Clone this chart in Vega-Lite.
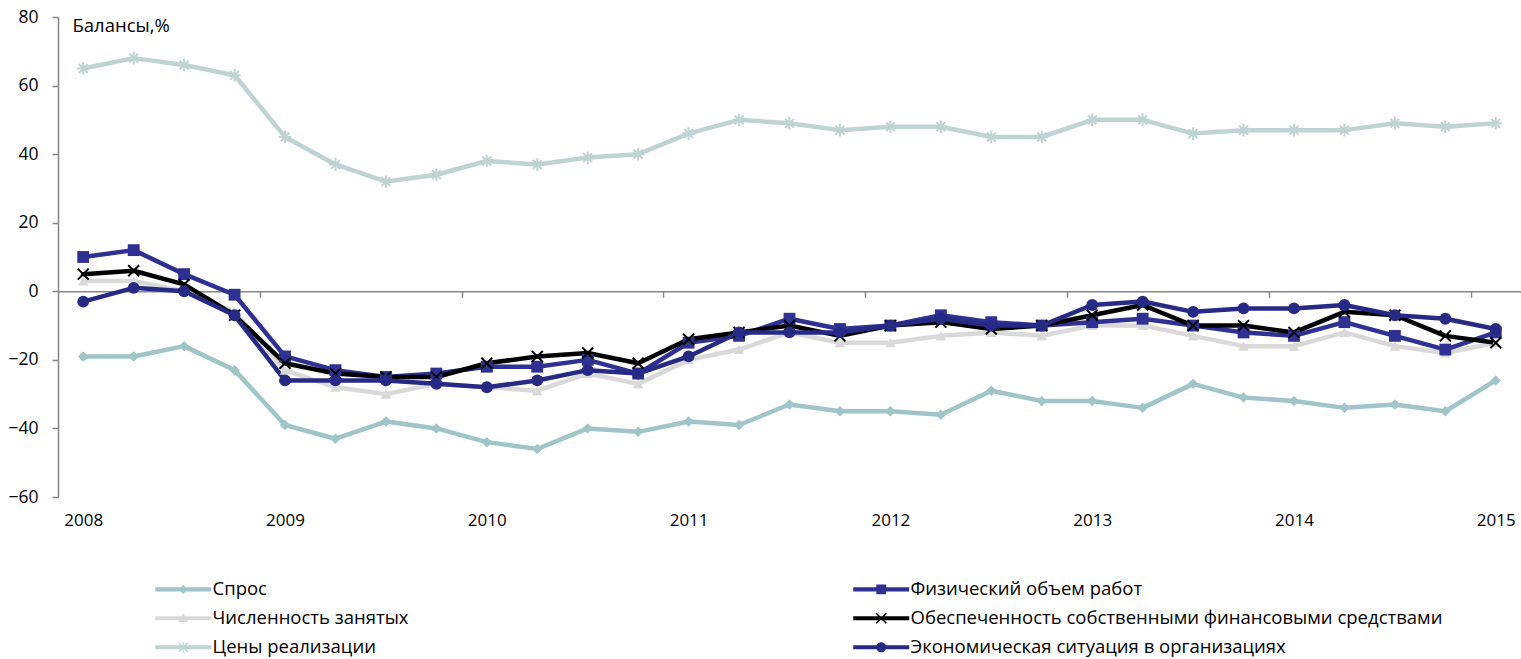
{
  "$schema": "https://vega.github.io/schema/vega-lite/v6.json",
  "width": 1463,
  "height": 480,
  "autosize": {"type": "none"},
  "padding": {"left": 58, "top": 17, "right": 0, "bottom": 162},
  "background": "white",
  "config": {
    "view": {"stroke": null},
    "font": "Open Sans",
    "legend": {"labelFont": "Open Sans"}
  },
  "data": {"values": [
    {"s":"Спрос","i":0,"v":-19},{"s":"Спрос","i":1,"v":-19},{"s":"Спрос","i":2,"v":-16},{"s":"Спрос","i":3,"v":-23},{"s":"Спрос","i":4,"v":-39},{"s":"Спрос","i":5,"v":-43},{"s":"Спрос","i":6,"v":-38},{"s":"Спрос","i":7,"v":-40},{"s":"Спрос","i":8,"v":-44},{"s":"Спрос","i":9,"v":-46},{"s":"Спрос","i":10,"v":-40},{"s":"Спрос","i":11,"v":-41},{"s":"Спрос","i":12,"v":-38},{"s":"Спрос","i":13,"v":-39},{"s":"Спрос","i":14,"v":-33},{"s":"Спрос","i":15,"v":-35},{"s":"Спрос","i":16,"v":-35},{"s":"Спрос","i":17,"v":-36},{"s":"Спрос","i":18,"v":-29},{"s":"Спрос","i":19,"v":-32},{"s":"Спрос","i":20,"v":-32},{"s":"Спрос","i":21,"v":-34},{"s":"Спрос","i":22,"v":-27},{"s":"Спрос","i":23,"v":-31},{"s":"Спрос","i":24,"v":-32},{"s":"Спрос","i":25,"v":-34},{"s":"Спрос","i":26,"v":-33},{"s":"Спрос","i":27,"v":-35},{"s":"Спрос","i":28,"v":-26},
    {"s":"Цены реализации","i":0,"v":65},{"s":"Цены реализации","i":1,"v":68},{"s":"Цены реализации","i":2,"v":66},{"s":"Цены реализации","i":3,"v":63},{"s":"Цены реализации","i":4,"v":45},{"s":"Цены реализации","i":5,"v":37},{"s":"Цены реализации","i":6,"v":32},{"s":"Цены реализации","i":7,"v":34},{"s":"Цены реализации","i":8,"v":38},{"s":"Цены реализации","i":9,"v":37},{"s":"Цены реализации","i":10,"v":39},{"s":"Цены реализации","i":11,"v":40},{"s":"Цены реализации","i":12,"v":46},{"s":"Цены реализации","i":13,"v":50},{"s":"Цены реализации","i":14,"v":49},{"s":"Цены реализации","i":15,"v":47},{"s":"Цены реализации","i":16,"v":48},{"s":"Цены реализации","i":17,"v":48},{"s":"Цены реализации","i":18,"v":45},{"s":"Цены реализации","i":19,"v":45},{"s":"Цены реализации","i":20,"v":50},{"s":"Цены реализации","i":21,"v":50},{"s":"Цены реализации","i":22,"v":46},{"s":"Цены реализации","i":23,"v":47},{"s":"Цены реализации","i":24,"v":47},{"s":"Цены реализации","i":25,"v":47},{"s":"Цены реализации","i":26,"v":49},{"s":"Цены реализации","i":27,"v":48},{"s":"Цены реализации","i":28,"v":49},
    {"s":"Численность занятых","i":0,"v":3},{"s":"Численность занятых","i":1,"v":3},{"s":"Численность занятых","i":2,"v":0},{"s":"Численность занятых","i":3,"v":-6},{"s":"Численность занятых","i":4,"v":-23},{"s":"Численность занятых","i":5,"v":-28},{"s":"Численность занятых","i":6,"v":-30},{"s":"Численность занятых","i":7,"v":-27},{"s":"Численность занятых","i":8,"v":-28},{"s":"Численность занятых","i":9,"v":-29},{"s":"Численность занятых","i":10,"v":-24},{"s":"Численность занятых","i":11,"v":-27},{"s":"Численность занятых","i":12,"v":-20},{"s":"Численность занятых","i":13,"v":-17},{"s":"Численность занятых","i":14,"v":-12},{"s":"Численность занятых","i":15,"v":-15},{"s":"Численность занятых","i":16,"v":-15},{"s":"Численность занятых","i":17,"v":-13},{"s":"Численность занятых","i":18,"v":-12},{"s":"Численность занятых","i":19,"v":-13},{"s":"Численность занятых","i":20,"v":-10},{"s":"Численность занятых","i":21,"v":-10},{"s":"Численность занятых","i":22,"v":-13},{"s":"Численность занятых","i":23,"v":-16},{"s":"Численность занятых","i":24,"v":-16},{"s":"Численность занятых","i":25,"v":-12},{"s":"Численность занятых","i":26,"v":-16},{"s":"Численность занятых","i":27,"v":-18},{"s":"Численность занятых","i":28,"v":-15},
    {"s":"Физический объем работ","i":0,"v":10},{"s":"Физический объем работ","i":1,"v":12},{"s":"Физический объем работ","i":2,"v":5},{"s":"Физический объем работ","i":3,"v":-1},{"s":"Физический объем работ","i":4,"v":-19},{"s":"Физический объем работ","i":5,"v":-23},{"s":"Физический объем работ","i":6,"v":-25},{"s":"Физический объем работ","i":7,"v":-24},{"s":"Физический объем работ","i":8,"v":-22},{"s":"Физический объем работ","i":9,"v":-22},{"s":"Физический объем работ","i":10,"v":-20},{"s":"Физический объем работ","i":11,"v":-24},{"s":"Физический объем работ","i":12,"v":-15},{"s":"Физический объем работ","i":13,"v":-13},{"s":"Физический объем работ","i":14,"v":-8},{"s":"Физический объем работ","i":15,"v":-11},{"s":"Физический объем работ","i":16,"v":-10},{"s":"Физический объем работ","i":17,"v":-7},{"s":"Физический объем работ","i":18,"v":-9},{"s":"Физический объем работ","i":19,"v":-10},{"s":"Физический объем работ","i":20,"v":-9},{"s":"Физический объем работ","i":21,"v":-8},{"s":"Физический объем работ","i":22,"v":-10},{"s":"Физический объем работ","i":23,"v":-12},{"s":"Физический объем работ","i":24,"v":-13},{"s":"Физический объем работ","i":25,"v":-9},{"s":"Физический объем работ","i":26,"v":-13},{"s":"Физический объем работ","i":27,"v":-17},{"s":"Физический объем работ","i":28,"v":-12},
    {"s":"Обеспеченность собственными финансовыми средствами","i":0,"v":5},{"s":"Обеспеченность собственными финансовыми средствами","i":1,"v":6},{"s":"Обеспеченность собственными финансовыми средствами","i":2,"v":2},{"s":"Обеспеченность собственными финансовыми средствами","i":3,"v":-7},{"s":"Обеспеченность собственными финансовыми средствами","i":4,"v":-21},{"s":"Обеспеченность собственными финансовыми средствами","i":5,"v":-24},{"s":"Обеспеченность собственными финансовыми средствами","i":6,"v":-25},{"s":"Обеспеченность собственными финансовыми средствами","i":7,"v":-25},{"s":"Обеспеченность собственными финансовыми средствами","i":8,"v":-21},{"s":"Обеспеченность собственными финансовыми средствами","i":9,"v":-19},{"s":"Обеспеченность собственными финансовыми средствами","i":10,"v":-18},{"s":"Обеспеченность собственными финансовыми средствами","i":11,"v":-21},{"s":"Обеспеченность собственными финансовыми средствами","i":12,"v":-14},{"s":"Обеспеченность собственными финансовыми средствами","i":13,"v":-12},{"s":"Обеспеченность собственными финансовыми средствами","i":14,"v":-10},{"s":"Обеспеченность собственными финансовыми средствами","i":15,"v":-13},{"s":"Обеспеченность собственными финансовыми средствами","i":16,"v":-10},{"s":"Обеспеченность собственными финансовыми средствами","i":17,"v":-9},{"s":"Обеспеченность собственными финансовыми средствами","i":18,"v":-11},{"s":"Обеспеченность собственными финансовыми средствами","i":19,"v":-10},{"s":"Обеспеченность собственными финансовыми средствами","i":20,"v":-7},{"s":"Обеспеченность собственными финансовыми средствами","i":21,"v":-4},{"s":"Обеспеченность собственными финансовыми средствами","i":22,"v":-10},{"s":"Обеспеченность собственными финансовыми средствами","i":23,"v":-10},{"s":"Обеспеченность собственными финансовыми средствами","i":24,"v":-12},{"s":"Обеспеченность собственными финансовыми средствами","i":25,"v":-6},{"s":"Обеспеченность собственными финансовыми средствами","i":26,"v":-7},{"s":"Обеспеченность собственными финансовыми средствами","i":27,"v":-13},{"s":"Обеспеченность собственными финансовыми средствами","i":28,"v":-15},
    {"s":"Экономическая ситуация в организациях","i":0,"v":-3},{"s":"Экономическая ситуация в организациях","i":1,"v":1},{"s":"Экономическая ситуация в организациях","i":2,"v":0},{"s":"Экономическая ситуация в организациях","i":3,"v":-7},{"s":"Экономическая ситуация в организациях","i":4,"v":-26},{"s":"Экономическая ситуация в организациях","i":5,"v":-26},{"s":"Экономическая ситуация в организациях","i":6,"v":-26},{"s":"Экономическая ситуация в организациях","i":7,"v":-27},{"s":"Экономическая ситуация в организациях","i":8,"v":-28},{"s":"Экономическая ситуация в организациях","i":9,"v":-26},{"s":"Экономическая ситуация в организациях","i":10,"v":-23},{"s":"Экономическая ситуация в организациях","i":11,"v":-24},{"s":"Экономическая ситуация в организациях","i":12,"v":-19},{"s":"Экономическая ситуация в организациях","i":13,"v":-12},{"s":"Экономическая ситуация в организациях","i":14,"v":-12},{"s":"Экономическая ситуация в организациях","i":15,"v":-12},{"s":"Экономическая ситуация в организациях","i":16,"v":-10},{"s":"Экономическая ситуация в организациях","i":17,"v":-8},{"s":"Экономическая ситуация в организациях","i":18,"v":-10},{"s":"Экономическая ситуация в организациях","i":19,"v":-10},{"s":"Экономическая ситуация в организациях","i":20,"v":-4},{"s":"Экономическая ситуация в организациях","i":21,"v":-3},{"s":"Экономическая ситуация в организациях","i":22,"v":-6},{"s":"Экономическая ситуация в организациях","i":23,"v":-5},{"s":"Экономическая ситуация в организациях","i":24,"v":-5},{"s":"Экономическая ситуация в организациях","i":25,"v":-4},{"s":"Экономическая ситуация в организациях","i":26,"v":-7},{"s":"Экономическая ситуация в организациях","i":27,"v":-8},{"s":"Экономическая ситуация в организациях","i":28,"v":-11}
  ]},
  "resolve": {"axis": {"x": "independent"}},
  "layer": [
    {
      "mark": {"type": "line", "strokeJoin": "round", "strokeCap": "round", "strokeWidth": 4.5},
      "encoding": {
        "x": {"field": "i", "type": "quantitative",
              "scale": {"domain": [-0.5, 28.5], "nice": false, "zero": false},
              "axis": {"values": [0,4,8,12,16,20,24,28], "labelExpr": "'' + (2008 + datum.value/4)",
                       "ticks": false, "domain": false, "grid": false, "title": null,
                       "labelPadding": 15, "labelFontSize": 17, "labelColor": "#000000",
                       "labelFlush": false, "labelOverlap": false, "labelBound": false}},
        "y": {"field": "v", "type": "quantitative",
              "scale": {"domain": [-60, 80], "nice": false, "zero": false},
              "axis": {"values": [-60,-40,-20,0,20,40,60,80], "grid": false,
                       "domainColor": "#868686", "tickColor": "#868686", "domainWidth": 1.5, "tickWidth": 1.5,
                       "tickSize": 6, "labelPadding": 14, "labelFontSize": 17.5, "labelColor": "#000000",
                       "title": "Балансы,%", "titleAngle": 0, "titleX": 14, "titleY": 8,
                       "titleAlign": "left", "titleBaseline": "middle", "titleFontWeight": "normal",
                       "titleFontSize": 18.5, "titleColor": "#000000"}},
        "color": {"field": "s", "type": "nominal",
                  "scale": {"domain": ["Спрос","Численность занятых","Цены реализации","Физический объем работ","Обеспеченность собственными финансовыми средствами","Экономическая ситуация в организациях"],
                            "range": ["#9FC5C8","#D9D9D9","#C0D3D3","#2E3192","#000000","#262A85"]},
                  "legend": {"orient": "none", "direction": "vertical", "legendX": 116, "legendY": 563, "columns": 2, "columnPadding": 444,
                             "rowPadding": 10, "symbolSize": 196, "labelOffset": 20, "labelFontSize": 18.5,
                             "symbolStrokeWidth": 0,
                             "labelColor": "#000000", "labelLimit": 0, "title": null, "padding": 0,
                             "encode": {"symbols": {"update": {
                               "shape": {"signal": "datum.value === 'Спрос' ? 'M-4,-0.3H4V0.3H-4Z M0,-0.65L0.65,0L0,0.65L-0.65,0Z' : datum.value === 'Физический объем работ' ? 'M-4,-0.3H4V0.3H-4Z M-0.7,-0.7H0.7V0.7H-0.7Z' : datum.value === 'Численность занятых' ? 'M-4,-0.3H4V0.3H-4Z M0,-0.75L0.7,0.55H-0.7Z' : datum.value === 'Обеспеченность собственными финансовыми средствами' ? 'M-4,-0.3H4V0.3H-4Z M-0.8,-0.65L-0.65,-0.8L0.8,0.65L0.65,0.8Z M-0.8,0.65L0.65,-0.8L0.8,-0.65L-0.65,0.8Z' : datum.value === 'Цены реализации' ? 'M-4,-0.3H4V0.3H-4Z M-0.7,-0.57L-0.57,-0.7L0.7,0.57L0.57,0.7Z M-0.7,0.57L0.57,-0.7L0.7,-0.57L-0.57,0.7Z M-0.08,-0.75H0.08V0.75H-0.08Z' : 'M-4,-0.3H4V0.3H-4Z M-0.72,0A0.72,0.72,0,1,1,0.72,0A0.72,0.72,0,1,1,-0.72,0Z'"},
                               "fill": {"scale": "color", "field": "value"},
                               "fillOpacity": {"value": 1},
                               "opacity": {"value": 1},
                               "stroke": {"value": "transparent"},
                               "strokeOpacity": {"value": 0},
                               "strokeWidth": {"value": 0}
                             }}}}}
      }
    },
    {
      "transform": [{"filter": "datum.s === 'Спрос'"}],
      "mark": {"type": "point", "filled": true, "opacity": 1, "size": 110, "shape": "diamond"},
      "encoding": {
        "x": {"field": "i", "type": "quantitative",
              "axis": {"orient": "bottom", "offset": -205.7, "values": [3.5,7.5,11.5,15.5,19.5,23.5,27.5],
                       "labels": false, "ticks": true, "tickSize": 6, "tickWidth": 1.5, "domain": true,
                       "domainColor": "#868686", "tickColor": "#868686", "domainWidth": 1.5,
                       "grid": false, "title": null}},
        "y": {"field": "v", "type": "quantitative"},
        "color": {"field": "s", "type": "nominal", "legend": null}
      }
    },
    {
      "transform": [{"filter": "datum.s === 'Численность занятых'"}],
      "mark": {"type": "point", "filled": true, "opacity": 1, "size": 110, "shape": "triangle-up"},
      "encoding": {
        "x": {"field": "i", "type": "quantitative", "axis": null},
        "y": {"field": "v", "type": "quantitative"},
        "color": {"field": "s", "type": "nominal", "legend": null}
      }
    },
    {
      "transform": [{"filter": "datum.s === 'Цены реализации'"}],
      "mark": {"type": "point", "filled": false, "opacity": 1, "size": 160, "strokeWidth": 2, "shape": "M-1,0H1M0,-1V1M-0.7,-0.7L0.7,0.7M-0.7,0.7L0.7,-0.7"},
      "encoding": {
        "x": {"field": "i", "type": "quantitative", "axis": null},
        "y": {"field": "v", "type": "quantitative"},
        "color": {"field": "s", "type": "nominal", "legend": null}
      }
    },
    {
      "transform": [{"filter": "datum.s === 'Физический объем работ'"}],
      "mark": {"type": "point", "filled": true, "opacity": 1, "size": 140, "shape": "square"},
      "encoding": {
        "x": {"field": "i", "type": "quantitative", "axis": null},
        "y": {"field": "v", "type": "quantitative"},
        "color": {"field": "s", "type": "nominal", "legend": null}
      }
    },
    {
      "transform": [{"filter": "datum.s === 'Обеспеченность собственными финансовыми средствами'"}],
      "mark": {"type": "point", "filled": false, "opacity": 1, "size": 120, "strokeWidth": 2, "shape": "M-1,-1L1,1M-1,1L1,-1"},
      "encoding": {
        "x": {"field": "i", "type": "quantitative", "axis": null},
        "y": {"field": "v", "type": "quantitative"},
        "color": {"field": "s", "type": "nominal", "legend": null}
      }
    },
    {
      "transform": [{"filter": "datum.s === 'Экономическая ситуация в организациях'"}],
      "mark": {"type": "point", "filled": true, "opacity": 1, "size": 140, "shape": "circle"},
      "encoding": {
        "x": {"field": "i", "type": "quantitative", "axis": null},
        "y": {"field": "v", "type": "quantitative"},
        "color": {"field": "s", "type": "nominal", "legend": null}
      }
    }
  ]
}
